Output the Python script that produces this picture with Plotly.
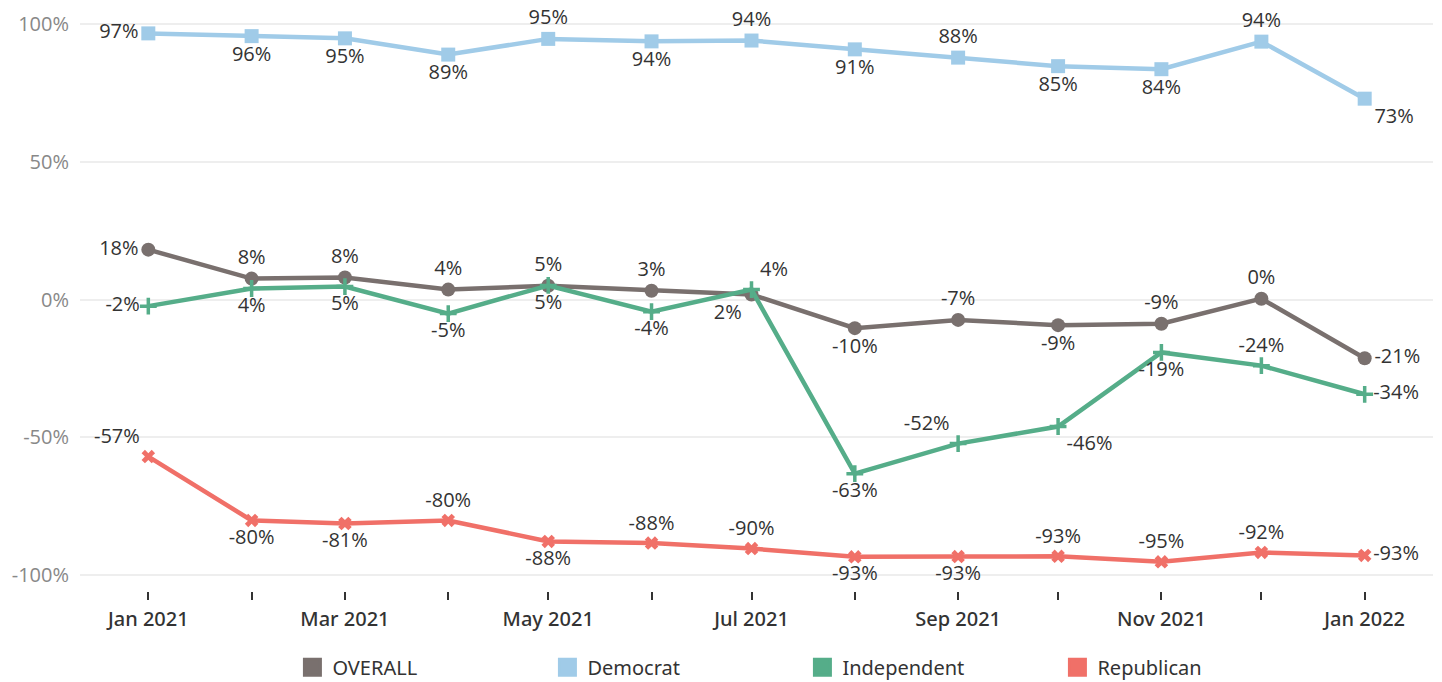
import plotly.graph_objects as go

months = ["2021-01-01", "2021-02-01", "2021-03-01", "2021-04-01", "2021-05-01", "2021-06-01",
          "2021-07-01", "2021-08-01", "2021-09-01", "2021-10-01", "2021-11-01", "2021-12-01",
          "2022-01-01"]

overall = [18.1, 7.6, 8.0, 3.6, 5.0, 3.2, 1.8, -10.4, -7.4, -9.3, -8.8, 0.3, -21.3]
democrat = [96.6, 95.6, 94.8, 88.9, 94.6, 93.7, 94.0, 90.8, 87.8, 84.7, 83.6, 93.6, 72.9]
independent = [-2.4, 4.0, 4.7, -5.1, 5.1, -4.4, 3.6, -63.2, -52.3, -46.1, -19.2, -24.0, -34.4]
republican = [-57.0, -80.2, -81.3, -80.2, -87.8, -88.4, -90.4, -93.4, -93.3, -93.2, -95.2, -91.8, -92.9]

series_names = ["OVERALL", "Democrat", "Independent", "Republican"]

y_tick_vals = [-100, -50, 0, 50, 100]
y_tick_text = ["-100%", "-50%", "0%", "50%", "100%"]

pos_overall = ["middle left", "top center", "top center", "top center", "top center", "top center",
               "bottom left", "bottom center", "top center", "bottom center", "top center", "top center",
               "middle right"]
pos_democrat = ["middle left", "bottom center", "bottom center", "bottom center", "top center", "bottom center",
                "top center", "bottom center", "top center", "bottom center", "bottom center", "top center",
                "bottom right"]
pos_independent = ["middle left", "bottom center", "bottom center", "bottom center", "bottom center", "bottom center",
                   "top right", "bottom center", "top left", "bottom right", "bottom center", "top center",
                   "middle right"]
pos_republican = ["top left", "bottom center", "bottom center", "top center", "bottom center", "top center",
                  "top center", "bottom center", "bottom center", "top center", "top center", "top center",
                  "middle right"]

colors = {"OVERALL": "#79706e", "Democrat": "#a0cbe8", "Independent": "#55ad89", "Republican": "#f07068"}

fig = go.Figure()

label_font = dict(family="Open Sans, sans-serif", size=20, color="#333333")

def add_series(name, values, positions, symbol, msize, mline=0):
    c = colors[name]
    fig.add_trace(go.Scatter(
        x=months, y=values, name=name, mode="lines+markers+text",
        line=dict(color=c, width=4.5),
        marker=dict(symbol=symbol, size=msize, color=c, line=dict(color=c, width=mline)),
        texttemplate="%{y:.0f}%", textposition=positions, textfont=label_font,
        showlegend=False, cliponaxis=False, hoverinfo="skip"))

add_series("Democrat", democrat, pos_democrat, "square", 14)
add_series("OVERALL", overall, pos_overall, "circle", 14)
add_series("Independent", independent, pos_independent, "cross-thin", 12, 3.5)
add_series("Republican", republican, pos_republican, "x", 12)

for name in series_names:
    fig.add_trace(go.Scatter(
        x=[None], y=[None], name=name, mode="markers",
        marker=dict(symbol="square", size=22, color=colors[name],
                    line=dict(color=colors[name], width=3)),
        showlegend=True))

fig.add_shape(type="line", xref="paper", yref="y", x0=0, x1=1, y0=0, y1=0,
              line=dict(color="#bbbbbb", width=1, dash="dot"), layer="below")

fig.update_layout(
    width=1442, height=682,
    margin=dict(l=80, r=9, t=5, b=91, autoexpand=False),
    plot_bgcolor="white", paper_bgcolor="white",
    font=dict(family="Open Sans, sans-serif"),
    legend=dict(orientation="h", xanchor="left", x=0.157, yanchor="middle", y=-0.13,
                entrywidth=210, entrywidthmode="pixels",
                font=dict(family="Noto Sans, sans-serif", size=20, color="#333333"),
                itemclick=False, itemdoubleclick=False),
    xaxis=dict(
        type="date", range=["2020-12-11 12:00", "2022-01-21 12:00"],
        dtick="M2", tick0="2021-01-01", tickformat="%b %Y",
        ticks="outside", ticklen=8, tickwidth=1.5, tickcolor="#333333",
        minor=dict(dtick="M1", tick0="2021-01-01", ticks="outside", ticklen=8, tickwidth=1.5,
                   tickcolor="#333333", showgrid=False),
        showgrid=False, showline=False, zeroline=False, automargin=False,
        ticklabelstandoff=2,
        tickfont=dict(family="Noto Sans, sans-serif", size=20, color="#333333", weight=500),
    ),
    yaxis=dict(
        range=[-105.8, 106.9],
        tickvals=y_tick_vals, ticktext=y_tick_text,
        showgrid=True, gridcolor="#eeeeee", gridwidth=1.5,
        zeroline=False, showline=False, automargin=False,
        ticklabelstandoff=10,
        tickfont=dict(family="Open Sans, sans-serif", size=20, color="#888888"),
    ),
)

fig.write_html("out.html", config={"displayModeBar": False},
               post_script="document.body.style.margin='0';document.body.style.overflow='hidden';")
